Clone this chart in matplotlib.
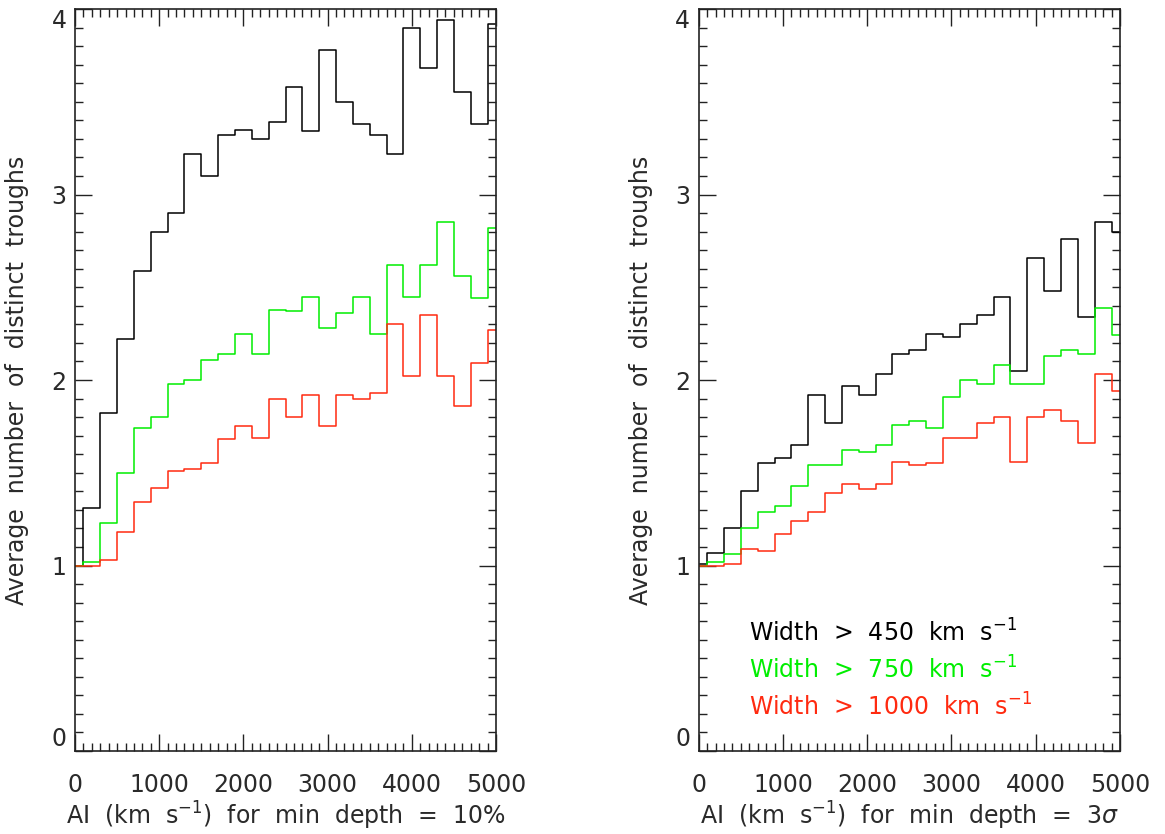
import numpy as np
import matplotlib
matplotlib.use("Agg")
import matplotlib.pyplot as plt
from matplotlib.ticker import MultipleLocator

# bin centres (km/s)
ai_bins = list(range(0, 5001, 200))

# Left panel: min depth = 10%
left_w450 = [1.00, 1.31, 1.82, 2.22, 2.59, 2.80, 2.90, 3.22, 3.10, 3.32, 3.35, 3.30, 3.39,
             3.58, 3.34, 3.78, 3.50, 3.38, 3.32, 3.22, 3.90, 3.68, 3.94, 3.55, 3.38, 3.92]
left_w750 = [1.00, 1.02, 1.23, 1.50, 1.74, 1.80, 1.98, 2.00, 2.11, 2.14, 2.25, 2.14, 2.38,
             2.37, 2.45, 2.28, 2.36, 2.45, 2.25, 2.62, 2.45, 2.62, 2.85, 2.56, 2.44, 2.82]
left_w1000 = [1.00, 1.00, 1.03, 1.18, 1.34, 1.42, 1.51, 1.52, 1.55, 1.68, 1.75, 1.69, 1.90,
              1.80, 1.92, 1.75, 1.92, 1.90, 1.93, 2.30, 2.02, 2.35, 2.02, 1.86, 2.09, 2.27]

# Right panel: min depth = 3 sigma
right_w450 = [1.01, 1.07, 1.20, 1.40, 1.55, 1.58, 1.65, 1.92, 1.77, 1.97, 1.92, 2.03, 2.14,
              2.16, 2.25, 2.23, 2.30, 2.35, 2.45, 2.05, 2.66, 2.48, 2.76, 2.34, 2.85, 2.80]
right_w750 = [1.00, 1.02, 1.06, 1.20, 1.29, 1.32, 1.43, 1.54, 1.54, 1.62, 1.61, 1.65, 1.76,
              1.78, 1.74, 1.91, 2.00, 1.98, 2.08, 1.98, 1.98, 2.13, 2.16, 2.14, 2.39, 2.24]
right_w1000 = [1.00, 1.00, 1.01, 1.09, 1.08, 1.17, 1.24, 1.29, 1.39, 1.44, 1.41, 1.44, 1.56,
               1.54, 1.55, 1.69, 1.69, 1.77, 1.80, 1.56, 1.80, 1.84, 1.78, 1.66, 2.03, 1.94]

legend_labels = [r"Width  >  450  km  s$^{-1}$",
                 r"Width  >  750  km  s$^{-1}$",
                 r"Width  >  1000  km  s$^{-1}$"]
xlabels = [r"AI  (km  s$^{-1}$)  for  min  depth  =  10%",
           r"AI  (km  s$^{-1}$)  for  min  depth  =  3$\mathit{\sigma}$"]
ylabel = "Average  number  of  distinct  troughs"

colors = ["black", "#00ee00", "#ff2a10"]
text_color = "#2a2a2a"

plt.rcParams['font.family'] = ['DejaVu Sans']
plt.rcParams['mathtext.default'] = 'regular'

fig = plt.figure(figsize=(11.65, 8.34), dpi=100)
axL = fig.add_axes([75/1165, 83/834, 421/1165, 742/834])
axR = fig.add_axes([698.7/1165, 83/834, 421.3/1165, 742/834])

fs = 17
for ax, series, xl in [(axL, [left_w450, left_w750, left_w1000], xlabels[0]),
                       (axR, [right_w450, right_w750, right_w1000], xlabels[1])]:
    for s, c in zip(series, colors):
        ax.step(ai_bins, s, where='mid', color=c, lw=1.1)
    ax.set_xlim(0, 5000)
    ax.set_ylim(0, 4)
    ax.xaxis.set_major_locator(MultipleLocator(1000))
    ax.xaxis.set_minor_locator(MultipleLocator(100))
    ax.yaxis.set_major_locator(MultipleLocator(1))
    ax.yaxis.set_minor_locator(MultipleLocator(0.1))
    ax.tick_params(which='both', direction='in', top=True, right=True,
                   width=1.0, color='#222222', labelcolor=text_color)
    ax.tick_params(which='major', length=12, labelsize=fs)
    ax.tick_params(which='minor', length=6)
    ax.tick_params(axis='x', which='major', pad=16)
    ax.tick_params(axis='y', which='major', pad=6)
    for sp in ax.spines.values():
        sp.set_linewidth(1.2)
        sp.set_color('#222222')
    ax.set_xlabel(xl, fontsize=fs, labelpad=2, color=text_color)
    ax.set_ylabel(ylabel, fontsize=fs, labelpad=16, color=text_color)
    ax.set_yticks([0, 1, 2, 3, 4])
    ax.set_yticklabels(['0', '1', '2', '3', '4'])
    labs = ax.get_yticklabels()
    labs[0].set_va('bottom')
    labs[-1].set_va('top')

for i, (lab, c) in enumerate(zip(legend_labels, colors)):
    axR.text(600, 0.636 - 0.2 * i, lab, color=c, fontsize=fs, va='center', ha='left')

fig.savefig("out.png", dpi=100)
